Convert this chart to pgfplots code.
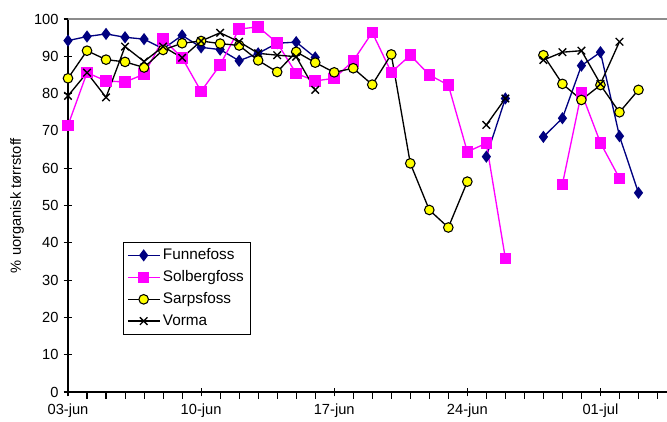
\documentclass[border=0pt]{standalone}
\usepackage{pgfplots}
\pgfplotsset{compat=1.18}
\usepackage{fontspec}
\setmainfont{Liberation Sans}
\definecolor{fnavy}{RGB}{0,0,128}
\definecolor{fmag}{RGB}{255,0,255}
\definecolor{fyel}{RGB}{255,255,0}
\begin{document}
\fontsize{11}{13}\selectfont
\begin{tikzpicture}
\begin{axis}[
  at={(0,0)}, anchor=south west,
  scale only axis, width=449.25pt, height=279.75pt,
  xmin=0, xmax=31.5, ymin=0, ymax=100,
  axis x line*=bottom, axis y line*=left,
  axis line style={-, black, line width=0.8pt},
  xtick={0,7,14,21,28},
  xticklabels={03-jun,10-jun,17-jun,24-jun,01-jul},
  minor xtick={1,2,3,4,5,6,8,9,10,11,12,13,15,16,17,18,19,20,22,23,24,25,26,27,29,30,31},
  ytick={0,10,...,100},
  tick align=center,
  major tick length=6.5pt,
  minor tick length=5pt,
  minor x tick style={yshift=-2.5pt},
  tick style={black, line width=0.8pt},
  /pgf/number format/assume math mode=true,
  ticklabel style={font=\fontsize{11}{13}\selectfont},
  xticklabel style={yshift=-2pt},
  ylabel={\% uorganisk tørrstoff},
  ylabel style={font=\fontsize{11}{13}\selectfont, yshift=0pt},
  unbounded coords=jump,
  clip=false,
  legend cell align=left,
  legend style={at={(0.0913,0.403)}, anchor=north west, draw=black, line width=0.6pt,
    font=\fontsize{11.5}{13}\selectfont, row sep=2.5pt, inner sep=3pt},
  legend image code/.code={\draw[mark repeat=2,mark phase=2] plot coordinates {(0cm,0cm) (0.42cm,0cm) (0.84cm,0cm)};},
]
\draw[gray!90, line width=1pt] (rel axis cs:0,1) -- (rel axis cs:1.05,1);
\draw[black, line width=0.8pt] (rel axis cs:1,0) -- (rel axis cs:1.05,0);
\addplot[fnavy, line width=1pt, mark=diamond*, mark size=3.8pt, mark options={fill=fnavy, draw=fnavy, solid}] coordinates {
(0,94.2) (1,95.3) (2,96.0) (3,95.1) (4,94.6) (5,92.0) (6,95.6) (7,92.4) (8,91.8) (9,88.8) (10,90.8) (11,93.5) (12,93.8) (13,89.7)
(14,nan) (22,63.1) (23,78.7) (24,nan) (25,68.4) (26,73.4) (27,87.5) (28,91.1) (29,68.6) (30,53.4)};
\addlegendentry{Funnefoss}
\addplot[fmag, line width=1pt, mark=square*, mark size=3.8pt, mark options={fill=fmag, draw=fmag, solid}] coordinates {
(0,71.5) (1,85.6) (2,83.4) (3,83.1) (4,85.2) (5,94.6) (6,89.6) (7,80.6) (8,87.7) (9,97.3) (10,97.9) (11,93.6) (12,85.4) (13,83.4) (14,84.1) (15,88.8) (16,96.4) (17,85.7) (18,90.3) (19,85.0) (20,82.3) (21,64.4) (22,66.7) (23,35.8)
(24,nan) (26,55.7) (27,80.2) (28,66.8) (29,57.3)};
\addlegendentry{Solbergfoss}
\addplot[black, line width=1pt, mark=*, mark size=3.6pt, mark options={fill=fyel, draw=black, line width=0.8pt, solid}] coordinates {
(0,84.1) (1,91.5) (2,89.1) (3,88.5) (4,87.0) (5,91.7) (6,93.5) (7,94.1) (8,93.4) (9,92.9) (10,88.9) (11,85.8) (12,91.2) (13,88.3) (14,85.7) (15,86.8) (16,82.4) (17,90.5) (18,61.3) (19,48.8) (20,44.1) (21,56.4)
(22,nan) (25,90.3) (26,82.6) (27,78.3) (28,82.3) (29,75.0) (30,81.0)};
\addlegendentry{Sarpsfoss}
\addplot[black, line width=1pt, mark=x, mark size=4pt, mark options={black, line width=1pt, solid}] coordinates {
(0,79.4) (1,85.6) (2,79.0) (3,92.6) (4,88.6) (5,92.6) (6,89.6) (7,94.1) (8,96.3) (9,93.9) (10,90.8) (11,90.3) (12,89.9) (13,81.0)
(14,nan) (22,71.6) (23,78.7) (24,nan) (25,89.0) (26,91.1) (27,91.5) (28,82.6) (29,93.9)};
\addlegendentry{Vorma}
\end{axis}
\pgfresetboundingbox
\path (-51pt,-21.75pt) rectangle (449.25pt,294pt);
\end{tikzpicture}
\end{document}
